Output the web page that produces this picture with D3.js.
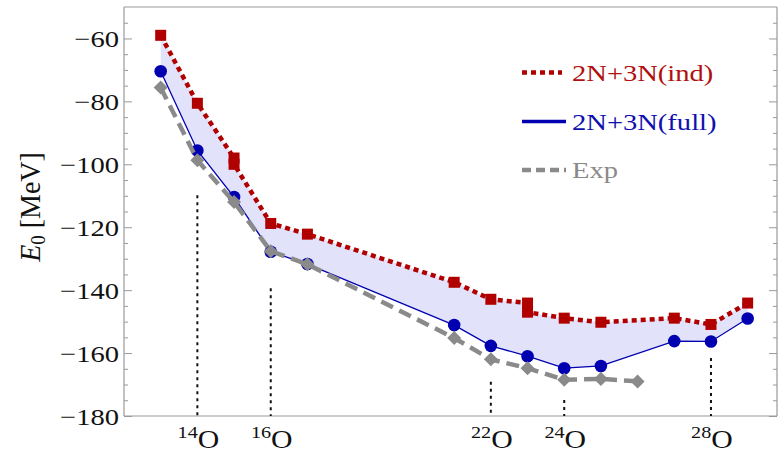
<!DOCTYPE html>
<html><head><meta charset="utf-8">
<script src="https://cdn.jsdelivr.net/npm/d3@7"></script>
<style>body{margin:0;background:#fff}svg{display:block}svg text{font-family:"Liberation Serif",serif}</style>
</head><body>
<svg id="c" width="778" height="455"></svg>
<script>
// ---- data ----
const indA   = [13, 14, 15, 15, 16, 17, 21, 22, 23, 23, 24, 25, 27, 28, 29];
const indE   = [-59, -80.6, -98, -100, -118.8, -122.2, -137.5, -142.9, -144.1, -147, -148.9, -150.2, -148.9, -150.9, -144.1];
const fullA  = [13, 14, 15, 16, 17, 21, 22, 23, 24, 25, 27, 28, 29];
const fullE  = [-70.4, -95.6, -110.4, -127.8, -131.7, -151.1, -157.7, -161, -164.8, -164.1, -156.2, -156.3, -149];
const expA   = [13, 14, 15, 16, 17, 21, 22, 23, 24, 25, 26];
const expE   = [-75.6, -98.7, -112, -127.6, -131.8, -155.2, -162.0, -164.8, -168.5, -168.2, -169.0];
const xTicks = [14, 16, 22, 24, 28];
const dropTops = [-109.8, -139.4, -169.1, -174.9, -161.6];
const yMajor = [-180, -160, -140, -120, -100, -80, -60];
const yMinor = [-175,-170,-165,-155,-150,-145,-135,-130,-125,-115,-110,-105,-95,-90,-85,-75,-70,-65,-55];
const legendLabels = ["2N+3N(ind)", "2N+3N(full)", "Exp"];

const SX = 1.19; // horizontal text stretch of the reference
const FF = "Liberation Serif, serif";
const svg = d3.select("#c");
const L = 124, R = 777, T = 7, B = 416;
const x = d3.scaleLinear().domain([12, 29.8]).range([L, R]);
const y = d3.scaleLinear().domain([-180, -50]).range([B, T]);

const RED = "#b00000", BLUE = "#0000b0", GRAY = "#8a8a8a", FILL = "#e2e2fa";
const indPts = indA.map((a,i)=>[a, indE[i]]);
const fullPts = fullA.map((a,i)=>[a, fullE[i]]);
const expPts = expA.map((a,i)=>[a, expE[i]]);
const line = d3.line().x(d=>x(d[0])).y(d=>y(d[1]));

// shaded band
svg.append("path").attr("d", line(indPts.concat(fullPts.slice().reverse())) + "Z")
  .attr("fill", FILL).attr("stroke", "none");

// frame
const axisCol = "#999";
svg.append("line").attr("x1",L).attr("x2",R).attr("y1",T).attr("y2",T).attr("stroke",axisCol).attr("stroke-width",1.2);
svg.append("line").attr("x1",R).attr("x2",R).attr("y1",T).attr("y2",B).attr("stroke",axisCol).attr("stroke-width",1.2);

// y axis
const gy = svg.append("g").attr("transform",`translate(${L},0)`);
gy.call(d3.axisLeft(y).tickValues(yMajor).tickSize(-8).tickPadding(6).tickFormat(d=>d<0?"\u2212"+Math.abs(d):d));
const gyMin = svg.append("g").attr("transform",`translate(${L},0)`);
gyMin.call(d3.axisLeft(y).tickValues(yMinor).tickSize(-4).tickFormat(""));
const gyR = svg.append("g").attr("transform",`translate(${R},0)`);
gyR.call(d3.axisRight(y).tickValues(yMajor).tickSize(-8).tickFormat(""));
const gyR2 = svg.append("g").attr("transform",`translate(${R},0)`);
gyR2.call(d3.axisRight(y).tickValues(yMinor).tickSize(-4).tickFormat(""));
svg.selectAll("g").attr("font-family", FF);
svg.selectAll(".domain").remove();
svg.append("line").attr("x1",L).attr("x2",L).attr("y1",T).attr("y2",B).attr("stroke",axisCol).attr("stroke-width",1.2);
svg.selectAll(".tick line").attr("stroke",axisCol).attr("stroke-width",1);
gy.selectAll(".tick text").each(function(){
  const t = d3.select(this);
  t.attr("x",0).attr("dy",null).attr("y",0)
   .attr("transform",`translate(-5,8) scale(${SX},1)`)
   .attr("font-size",24).attr("fill","#111").attr("text-anchor","end")
   .attr("font-family",FF);
});

// x axis
const gx = svg.append("g").attr("transform",`translate(0,${B})`);
gx.call(d3.axisBottom(x).tickValues(xTicks).tickSize(0).tickFormat(""));
gx.select(".domain").remove();
svg.append("line").attr("x1",L).attr("x2",R).attr("y1",B).attr("y2",B).attr("stroke",axisCol).attr("stroke-width",1.2);
xTicks.forEach(t=>{
  const tx = svg.append("text").attr("transform",`translate(${x(t)+1},448) scale(${SX},1)`)
    .attr("text-anchor","middle").attr("fill","#111").attr("font-family",FF);
  tx.append("tspan").attr("font-size",17).attr("dy",-10).text(t);
  tx.append("tspan").attr("font-size",25).attr("dy",10).text("O");
});

// dotted drop lines
xTicks.forEach((t,i)=>{
  svg.append("line").attr("x1",x(t)).attr("x2",x(t)).attr("y1",y(dropTops[i])).attr("y2",B)
    .attr("stroke","#111").attr("stroke-width",2).attr("stroke-dasharray","3,4");
});

// y label
const yl = svg.append("text").attr("transform",`translate(40,207) scale(1.05,1) rotate(-90)`)
  .attr("text-anchor","middle").attr("font-size",28).attr("fill","#111").attr("font-family",FF);
yl.append("tspan").attr("font-style","italic").text("E");
yl.append("tspan").attr("font-size",19).attr("dy",5).text("0");
yl.append("tspan").attr("dy",-5).text(" [MeV]");

// full (blue)
svg.append("path").attr("d",line(fullPts)).attr("fill","none").attr("stroke",BLUE).attr("stroke-width",1.3);
svg.selectAll("circle.full").data(fullPts).enter().append("circle")
  .attr("cx",d=>x(d[0])).attr("cy",d=>y(d[1])).attr("r",6.3).attr("fill",BLUE);

// exp (gray)
svg.append("path").attr("d",line(expPts)).attr("fill","none").attr("stroke",GRAY).attr("stroke-width",4.5).attr("stroke-dasharray","13,7");
svg.selectAll("path.exp").data(expPts).enter().append("path")
  .attr("d",d3.symbol().type(d3.symbolDiamond2).size(125))
  .attr("transform",d=>`translate(${x(d[0])},${y(d[1])})`).attr("fill",GRAY);

// ind (red)
svg.append("path").attr("d",line(indPts)).attr("fill","none").attr("stroke",RED).attr("stroke-width",4.5).attr("stroke-dasharray","5,4");
svg.selectAll("rect.ind").data(indPts).enter().append("rect")
  .attr("x",d=>x(d[0])-5.5).attr("y",d=>y(d[1])-5.5).attr("width",11).attr("height",11).attr("fill",RED);

// legend
const lg = [{c:RED,w:4.5,da:"5,4",tc:"#b01010"},{c:BLUE,w:3.5,da:null,tc:"#1010b0"},{c:GRAY,w:4.5,da:"9,5",tc:"#8a8a8a"}];
const ly = [72.5, 121.5, 170];
lg.forEach((s,i)=>{
  svg.append("line").attr("x1",522).attr("x2",i==0?562:566).attr("y1",ly[i]).attr("y2",ly[i])
    .attr("stroke",s.c).attr("stroke-width",s.w).attr("stroke-dasharray",s.da);
  svg.append("text").attr("transform",`translate(572,${ly[i]+8}) scale(${SX},1)`)
    .attr("font-size",24).attr("fill",s.tc).attr("font-family",FF).text(legendLabels[i]);
});
</script>
</body></html>
